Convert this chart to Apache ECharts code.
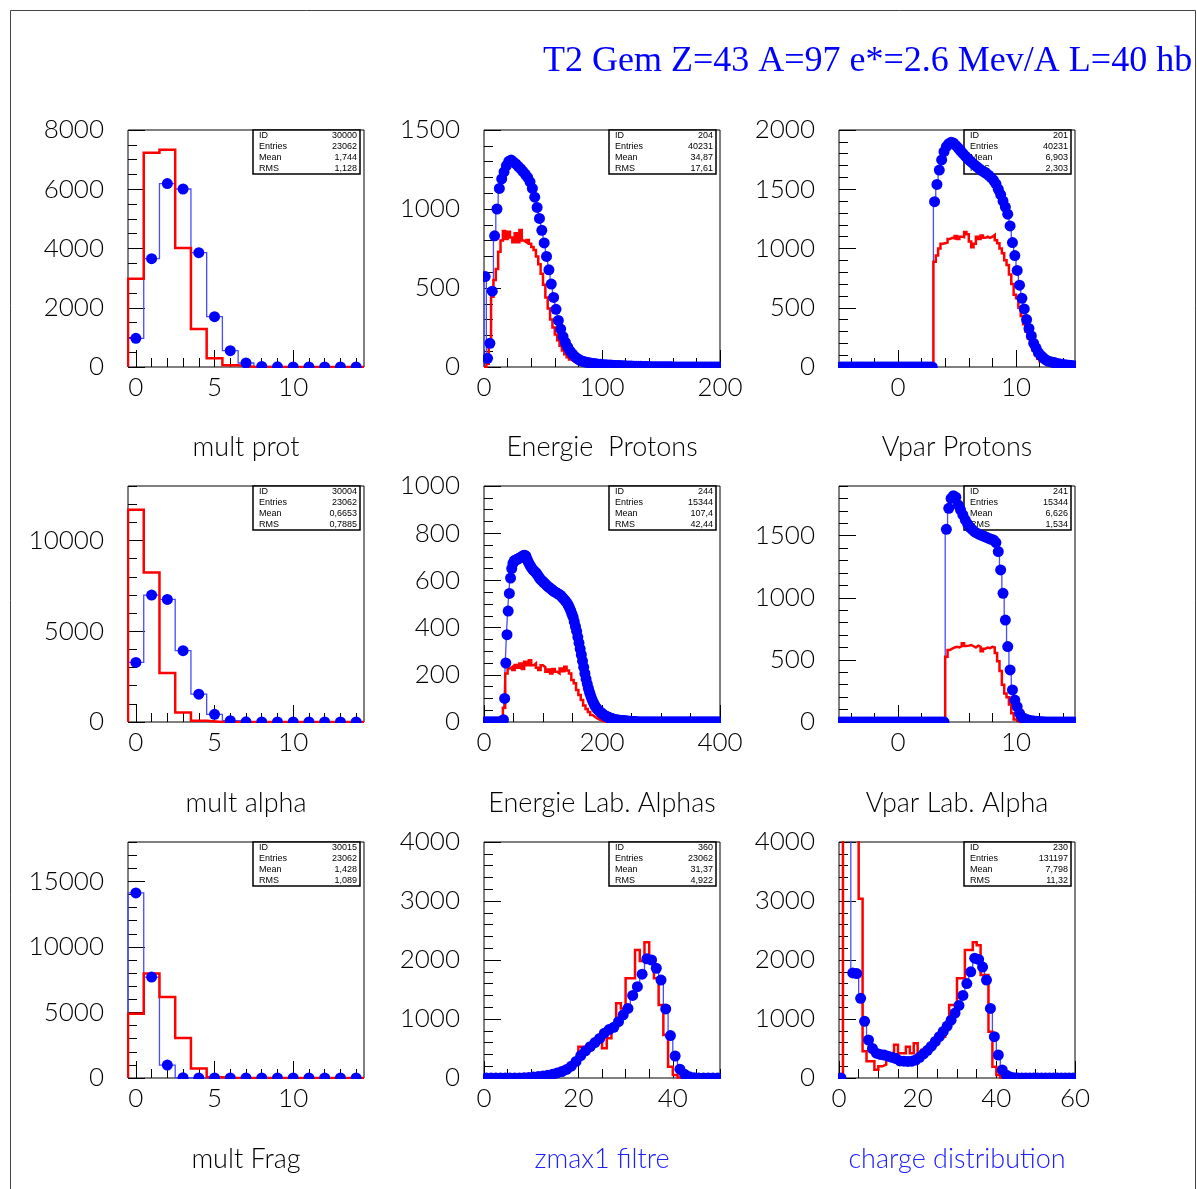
<!DOCTYPE html>
<html><head><meta charset="utf-8">
<script src="https://cdn.jsdelivr.net/npm/echarts@6/dist/echarts.min.js"></script>
<style>html,body{margin:0;padding:0;background:#fff}#c{width:1197px;height:1189px}</style>
</head><body><div id="c"></div>
<script>
// ---------------- DATA ----------------
const mainTitle = 'T2 Gem Z=43 A=97 e*=2.6 Mev/A L=40 hb';
const panelTitles = ['mult prot','Energie  Protons','Vpar Protons','mult alpha','Energie Lab. Alphas','Vpar Lab. Alpha','mult Frag','zmax1 filtre','charge distribution'];

// mult prot (bins of 1 from -0.5)
const p1Blue = [967, 3656, 6190, 6008, 3860, 1700, 550, 135, 20, 5, 0, 0, 0, 0, 0];
const p1Red  = [2980, 7234, 7335, 4016, 1283, 292, 56, 10, 0, 0, 0, 0, 0, 0, 0];
// Energie Protons (bins of 2 from 0)
const p2Blue = [572, 55, 150, 480, 830, 1000, 1130, 1190, 1235, 1275,
  1302, 1310, 1298, 1285, 1270, 1255, 1238, 1220, 1200, 1172,
  1130, 1075, 1010, 940, 865, 785, 700, 615, 525, 440,
  365, 295, 240, 192, 155, 125, 100, 82, 66, 54,
  44, 38, 33, 30, 27, 24, 22, 20, 18, 17,
  15, 14, 13, 12, 11, 10, 9, 9, 8, 8,
  7, 6, 6, 5, 5, 4, 4, 3, 3, 3,
  2, 2, 2, 2, 1, 1, 1, 1, 1, 1,
  0, 0, 0, 0, 0, 0, 0, 0, 0, 0,
  0, 0, 0, 0, 0, 0, 0, 0, 0, 0];
const p2Red = [0, 20, 170, 445, 550, 620, 730, 800, 860, 810,
  856, 820, 790, 846, 790, 867, 800, 790, 804, 780,
  760, 740, 700, 650, 590, 520, 440, 370, 300, 250,
  205, 170, 135, 105, 80, 62, 48, 36, 27, 20,
  15, 11, 8, 6, 4, 3, 2, 2, 1, 1,
  0, 0, 0, 0, 0, 0, 0, 0, 0, 0,
  0, 0, 0, 0, 0, 0, 0, 0, 0, 0,
  0, 0, 0, 0, 0, 0, 0, 0, 0, 0,
  0, 0, 0, 0, 0, 0, 0, 0, 0, 0,
  0, 0, 0, 0, 0, 0, 0, 0, 0, 0];
// Vpar Protons (bins of 0.2 from -5)
const p3Blue = [0, 0, 0, 0, 0, 0, 0, 0, 0, 0,
  0, 0, 0, 0, 0, 0, 0, 0, 0, 0,
  0, 0, 0, 0, 0, 0, 0, 0, 0, 0,
  0, 0, 0, 0, 0, 0, 0, 0, 0, 0,
  1395, 1541, 1662, 1747, 1817, 1859, 1885, 1896, 1890, 1870,
  1848, 1825, 1802, 1780, 1760, 1740, 1722, 1705, 1688, 1672,
  1658, 1645, 1632, 1618, 1598, 1575, 1545, 1500, 1455, 1400,
  1350, 1290, 1190, 1050, 940, 815, 690, 580, 490, 400,
  325, 262, 200, 160, 122, 98, 80, 62, 50, 45,
  40, 35, 30, 26, 23, 20, 17, 14, 12, 10];
const p3Red = [0, 0, 0, 0, 0, 0, 0, 0, 0, 0,
  0, 0, 0, 0, 0, 0, 0, 0, 0, 0,
  0, 0, 0, 0, 0, 0, 0, 0, 0, 0,
  0, 0, 0, 0, 0, 0, 0, 0, 0, 0,
  889, 940, 1000, 1040, 1045, 1050, 1080, 1090, 1085, 1105,
  1080, 1100, 1095, 1140, 1120, 1060, 1010, 1040, 1100, 1080,
  1110, 1090, 1100, 1090, 1100, 1114, 1070, 1045, 1000, 960,
  900, 860, 780, 700, 610, 580, 500, 430, 360, 300,
  240, 185, 140, 100, 70, 48, 32, 20, 12, 8,
  5, 3, 2, 1, 1, 0, 0, 0, 0, 0];
// mult alpha
const p4Blue = [3284, 6993, 6753, 3930, 1531, 424, 74, 10, 0, 0, 0, 0, 0, 0, 0];
const p4Red  = [11697, 8229, 2694, 517, 74, 5, 0, 0, 0, 0, 0, 0, 0, 0, 0];
// Energie Lab. Alphas (blue bins of 2, red bins of 4, from 0)
const p5Blue = [0, 0, 0, 0, 0, 0, 0, 0, 0, 0, 0, 0, 0, 0, 0, 0,
  10, 100, 250, 370, 470, 545, 610, 650, 672, 682,
  686, 688, 690, 693, 696, 699, 702, 705, 707, 703,
  690, 678, 668, 660, 652, 645, 640, 635, 630, 622,
  614, 607, 601, 597, 592, 587, 582, 577, 573, 569,
  565, 561, 557, 553, 550, 547, 544, 541, 538, 533,
  527, 522, 516, 510, 503, 494, 484, 472, 458, 444,
  425, 405, 385, 360, 335, 310, 285, 258, 232, 206,
  182, 162, 142, 125, 110, 96, 84, 74, 65, 58,
  52, 47, 42, 38, 34, 30, 27, 24, 22, 20,
  18, 16, 14, 13, 11, 10, 9, 8, 7, 7,
  6, 6, 5, 5, 4, 4, 3, 3, 3, 2,
  2, 2, 1, 1,
  0, 0, 0, 0, 0, 0, 0, 0, 0, 0,
  0, 0, 0, 0, 0, 0, 0, 0, 0, 0,
  0, 0, 0, 0, 0, 0, 0, 0, 0, 0,
  0, 0, 0, 0, 0, 0, 0, 0, 0, 0,
  0, 0, 0, 0, 0, 0, 0, 0, 0, 0,
  0, 0, 0, 0, 0, 0, 0, 0, 0, 0,
  0, 0, 0, 0, 0, 0, 0, 0, 0, 0];
const p5Red = [0, 0, 0, 0, 0, 0, 0, 0,
  60, 206, 227, 234, 220, 241, 230, 248, 225, 255,
  240, 262, 240, 248, 230, 220, 240, 232, 213, 222,
  206, 225, 213, 206, 227, 215, 234, 218, 206, 178,
  164, 136, 114, 93, 70, 55, 42, 30, 22, 15,
  10, 6, 3, 1,
  0, 0, 0, 0, 0, 0, 0, 0, 0, 0, 0, 0, 0, 0, 0, 0,
  0, 0, 0, 0, 0, 0, 0, 0, 0, 0, 0, 0, 0, 0, 0, 0,
  0, 0, 0, 0, 0, 0, 0, 0, 0, 0, 0, 0, 0, 0, 0, 0];
// Vpar Lab. Alpha (bins of 0.2 from -5)
const p6Blue = [0, 0, 0, 0, 0, 0, 0, 0, 0, 0, 0, 0, 0, 0, 0,
  0, 0, 0, 0, 0, 0, 0, 0, 0, 0, 0, 0, 0, 0, 0,
  0, 0, 0, 0, 0, 0, 0, 0, 0, 0, 0, 0, 0, 0, 0,
  1551, 1720, 1800, 1822, 1810, 1747, 1707, 1667, 1628, 1595,
  1568, 1548, 1530, 1520, 1510, 1503, 1495, 1487, 1478, 1471,
  1465, 1445, 1372, 1224, 1036, 821, 607, 419, 258, 177,
  123, 70, 38, 28, 21, 15, 11, 8, 6, 4,
  3, 2, 1, 1, 1, 0, 0, 0, 0, 0,
  0, 0, 0, 0, 0];
const p6Red = [0, 0, 0, 0, 0, 0, 0, 0, 0, 0, 0, 0, 0, 0, 0,
  0, 0, 0, 0, 0, 0, 0, 0, 0, 0, 0, 0, 0, 0, 0,
  0, 0, 0, 0, 0, 0, 0, 0, 0, 0, 0, 0, 0, 0, 0,
  526, 580, 590, 600, 605, 600, 610, 635, 612, 615,
  620, 610, 600, 615, 605, 570, 590, 600, 595, 605,
  600, 555, 490, 410, 300, 230, 200, 140, 70, 20,
  5, 0, 0, 0, 0, 0, 0, 0, 0, 0,
  0, 0, 0, 0, 0, 0, 0, 0, 0, 0,
  0, 0, 0, 0, 0];
// mult Frag
const p7Blue = [14115, 7701, 985, 20, 0, 0, 0, 0, 0, 0, 0, 0, 0, 0, 0];
const p7Red  = [4899, 7979, 6186, 3055, 732, 50, 0, 0, 0, 0, 0, 0, 0, 0, 0];
// zmax1 filtre (bins of 1 from 0)
const p8Blue = [0, 0, 0, 0, 0, 0, 0, 0,
  5, 10, 16, 24, 34, 48, 62, 85, 110, 145,
  200, 280, 380, 460, 530, 600, 670, 760, 820, 860,
  955, 1070, 1180, 1400, 1548, 1760, 2020, 2000, 1860, 1660,
  1170, 720, 373, 150, 62, 20, 5, 1,
  0, 0, 0, 0];
const p8Red = [0, 0, 0, 0, 0, 0, 0, 0,
  4, 8, 13, 20, 30, 42, 58, 78, 100, 135,
  180, 250, 531, 446, 480, 560, 620, 503, 672, 842,
  1266, 1180, 1689, 1689, 2170, 1983, 2300, 2000, 1689, 1237,
  729, 192, 51, 10,
  0, 0, 0, 0, 0, 0, 0, 0];
// charge distribution (bins of 1 from 0)
const p9Blue = [0, 40231, 15344, 1780, 1770, 1350, 960, 644, 500, 420,
  400, 390, 370, 350, 330, 290, 285, 280, 285, 305,
  350, 410, 470, 540, 620, 700, 790, 880, 980, 1100,
  1230, 1400, 1600, 1800, 2030, 2010, 1880, 1660, 1180, 700,
  390, 136, 50, 15, 5, 1,
  0, 0, 0, 0, 0, 0, 0, 0, 0, 0, 0, 0, 0, 0];
const p9Red = [0, 30000, 20000, 8000, 5000, 3040, 452, 282, 282, 141,
  198, 226, 395, 395, 565, 420, 420, 530, 420, 588,
  440, 480, 480, 560, 640, 700, 700, 900, 1237, 1237,
  1689, 1689, 2170, 2170, 2300, 2250, 1746, 1746, 785, 192,
  51, 10,
  0, 0, 0, 0, 0, 0, 0, 0, 0, 0, 0, 0, 0, 0, 0, 0, 0, 0];

// axis tick labels
const xLabMult = [0, 5, 10];
const xLabE1 = [0, 100, 200];
const xLabV = [0, 10];
const xLabE2 = [0, 200, 400];
const xLabZ8 = [0, 20, 40];
const xLabZ9 = [0, 20, 40, 60];
const yLab1 = [0, 2000, 4000, 6000, 8000];
const yLab2 = [0, 500, 1000, 1500];
const yLab3 = [0, 500, 1000, 1500, 2000];
const yLab4 = [0, 5000, 10000];
const yLab5 = [0, 200, 400, 600, 800, 1000];
const yLab6 = [0, 500, 1000, 1500];
const yLab7 = [0, 5000, 10000, 15000];
const yLab8 = [0, 1000, 2000, 3000, 4000];
const yLab9 = [0, 1000, 2000, 3000, 4000];

// statistics boxes
const statIds = ['30000', '204', '201', '30004', '244', '241', '30015', '360', '230'];
const statEntries = ['23062', '40231', '40231', '23062', '15344', '15344', '23062', '23062', '131197'];
const statMeans = ['1,744', '34,87', '6,903', '0,6653', '107,4', '6,626', '1,428', '31,37', '7,798'];
const statRms = ['1,128', '17,61', '2,303', '0,7885', '42,44', '1,534', '1,089', '4,922', '11,32'];

// ---------------- LAYOUT ----------------
function range(a, b, s) { const r = []; for (let v = a; v <= b + 1e-9; v += s) r.push(+v.toFixed(6)); return r; }
const colL = [128, 484, 839], colW = 236;
const rowT = [130, 486, 842], rowH = [237, 236, 236];
const titleY = [447, 803, 1159];

const P = [
 {blue: p1Blue, red: p1Red, s: -0.5, w: 1, rs: -0.5, rw: 1, xmin: -0.5, xmax: 14.5, ymax: 8000, xl: xLabMult, xm: range(0, 14, 1), yl: yLab1, ym: range(0, 8000, 500)},
 {blue: p2Blue, red: p2Red, s: 0, w: 2, rs: 0, rw: 2, xmin: 0, xmax: 200, ymax: 1500, xl: xLabE1, xm: range(0, 200, 20), yl: yLab2, ym: range(0, 1500, 100)},
 {blue: p3Blue, red: p3Red, s: -5, w: 0.2, rs: -5, rw: 0.2, xmin: -5, xmax: 15, ymax: 2000, xl: xLabV, xm: range(-4, 14, 2), yl: yLab3, ym: range(0, 2000, 100)},
 {blue: p4Blue, red: p4Red, s: -0.5, w: 1, rs: -0.5, rw: 1, xmin: -0.5, xmax: 14.5, ymax: 13000, xl: xLabMult, xm: range(0, 14, 1), yl: yLab4, ym: range(0, 13000, 1000)},
 {blue: p5Blue, red: p5Red, s: 0, w: 2, rs: 0, rw: 4, xmin: 0, xmax: 400, ymax: 1000, xl: xLabE2, xm: range(0, 400, 50), yl: yLab5, ym: range(0, 1000, 50)},
 {blue: p6Blue, red: p6Red, s: -5, w: 0.2, rs: -5, rw: 0.2, xmin: -5, xmax: 15, ymax: 1900, xl: xLabV, xm: range(-4, 14, 2), yl: yLab6, ym: range(0, 1900, 100)},
 {blue: p7Blue, red: p7Red, s: -0.5, w: 1, rs: -0.5, rw: 1, xmin: -0.5, xmax: 14.5, ymax: 18000, xl: xLabMult, xm: range(0, 14, 1), yl: yLab7, ym: range(0, 18000, 1000)},
 {blue: p8Blue, red: p8Red, s: 0, w: 1, rs: 0, rw: 1, xmin: 0, xmax: 50, ymax: 4000, xl: xLabZ8, xm: range(0, 50, 5), yl: yLab8, ym: range(0, 4000, 200)},
 {blue: p9Blue, red: p9Red, s: 0, w: 1, rs: 0, rw: 1, xmin: 0, xmax: 60, ymax: 4000, xl: xLabZ9, xm: range(0, 60, 5), yl: yLab9, ym: range(0, 4000, 200)}
];

const FONT = 'Lato';
const TICKFS = 26;
const grids = [], xAxes = [], yAxes = [], series = [], graphics = [];
const fmt = v => String(v);

function stepData(vals, start, w) {
  const d = [[start, 0]];
  vals.forEach((v, i) => { d.push([start + i * w, v]); d.push([start + (i + 1) * w, v]); });
  return d;
}

P.forEach((p, i) => {
  const r = Math.floor(i / 3), c = i % 3;
  const L = colL[c], T = rowT[r], H = rowH[r], W = colW;
  grids.push({left: L, top: T, width: W, height: H, show: true, borderColor: '#000', borderWidth: 1, backgroundColor: 'transparent', containLabel: false});
  const gi = i;
  const common = {gridIndex: gi, type: 'value', splitLine: {show: false}, axisLine: {show: false, onZero: false}};
  xAxes.push(Object.assign({}, common, {position: 'bottom', min: p.xmin, max: p.xmax,
    axisTick: {show: true, inside: true, length: 17, customValues: p.xl, lineStyle: {color: '#000', width: 1}},
    axisLabel: {show: true, customValues: p.xl, formatter: fmt, margin: 8, fontSize: TICKFS, fontFamily: FONT, fontWeight: 300, color: '#000'}}));
  xAxes.push(Object.assign({}, common, {position: 'bottom', min: p.xmin, max: p.xmax,
    axisTick: {show: true, inside: true, length: 9, customValues: p.xm, lineStyle: {color: '#000', width: 1}},
    axisLabel: {show: false}}));
  yAxes.push(Object.assign({}, common, {position: 'left', min: 0, max: p.ymax,
    axisTick: {show: true, inside: true, length: 17, customValues: p.yl, lineStyle: {color: '#000', width: 1}},
    axisLabel: {show: true, customValues: p.yl, formatter: fmt, margin: 24, fontSize: TICKFS, fontFamily: FONT, fontWeight: 300, color: '#000'}}));
  yAxes.push(Object.assign({}, common, {position: 'left', min: 0, max: p.ymax,
    axisTick: {show: true, inside: true, length: 9, customValues: p.ym, lineStyle: {color: '#000', width: 1}},
    axisLabel: {show: false}}));
  const xi = 2 * i, yi = 2 * i;
  series.push({type: 'line', xAxisIndex: xi, yAxisIndex: yi, data: stepData(p.blue, p.s, p.w), showSymbol: false, symbol: 'none',
    lineStyle: {color: '#4a4aff', width: 1.3, join: 'miter'}, clip: true, z: 2, silent: true});
  series.push({type: 'line', xAxisIndex: xi, yAxisIndex: yi, data: stepData(p.red, p.rs, p.rw), showSymbol: false, symbol: 'none',
    lineStyle: {color: '#ff0000', width: 2.5, join: 'miter'}, clip: true, z: 3, silent: true});
  series.push({type: 'scatter', xAxisIndex: xi, yAxisIndex: yi, data: p.blue.map((v, k) => [p.s + (k + 0.5) * p.w, v]),
    symbol: 'circle', symbolSize: 11, itemStyle: {color: '#0000ff', opacity: 1}, clip: true, z: 4, silent: true});

  // masks to clip markers at the frame
  const m = 8;
  graphics.push({type: 'rect', z: 50, silent: true, shape: {x: L - m, y: T + H + 1, width: W + 2 * m, height: m - 1}, style: {fill: '#fff'}});
  graphics.push({type: 'rect', z: 50, silent: true, shape: {x: L - m, y: T - m, width: W + 2 * m, height: m - 1}, style: {fill: '#fff'}});
  graphics.push({type: 'rect', z: 50, silent: true, shape: {x: L - m, y: T - m, width: m - 1, height: H + 2 * m}, style: {fill: '#fff'}});
  graphics.push({type: 'rect', z: 50, silent: true, shape: {x: L + W + 1, y: T - m, width: m - 1, height: H + 2 * m}, style: {fill: '#fff'}});

  // stats box
  const bw = 107, bh = 44, bx = L + W - 4 - bw, by = T;
  graphics.push({type: 'rect', z: 1, silent: true, shape: {x: bx, y: by, width: bw, height: bh}, style: {fill: '#fff', stroke: '#000', lineWidth: 1.5}});
  const labs = ['ID', 'Entries', 'Mean', 'RMS'];
  const vals = [statIds[i], statEntries[i], statMeans[i], statRms[i]];
  labs.forEach((t, k) => {
    const yy = by + 6 + k * 10.7;
    graphics.push({type: 'text', z: 1, silent: true, style: {text: t, x: bx + 6, y: yy, font: '9px "Liberation Sans"', fill: '#000', verticalAlign: 'middle', align: 'left'}});
    graphics.push({type: 'text', z: 1, silent: true, style: {text: vals[k], x: bx + bw - 3, y: yy, font: '9px "Liberation Sans"', fill: '#000', verticalAlign: 'middle', align: 'right'}});
  });
  // panel title
  graphics.push({type: 'text', z: 5, silent: true, style: {text: panelTitles[i], x: L + W / 2, y: titleY[r], font: '300 27px ' + FONT, fill: i >= 7 ? '#2020ff' : '#000', align: 'center', verticalAlign: 'middle'}});
});

// outer frame & main title
graphics.push({type: 'rect', z: 0, silent: true, shape: {x: 10.5, y: 10.5, width: 1185, height: 1200}, style: {fill: 'none', stroke: '#444', lineWidth: 1}});
graphics.push({type: 'text', z: 5, silent: true, style: {text: mainTitle, x: 543, y: 44, font: '36px "Liberation Serif"', fill: '#0000ff', align: 'left', verticalAlign: 'top'}});

const chart = echarts.init(document.getElementById('c'), null, {renderer: 'canvas'});
chart.setOption({animation: false, backgroundColor: '#fff', grid: grids, xAxis: xAxes, yAxis: yAxes, series: series, graphic: graphics});
</script></body></html>
